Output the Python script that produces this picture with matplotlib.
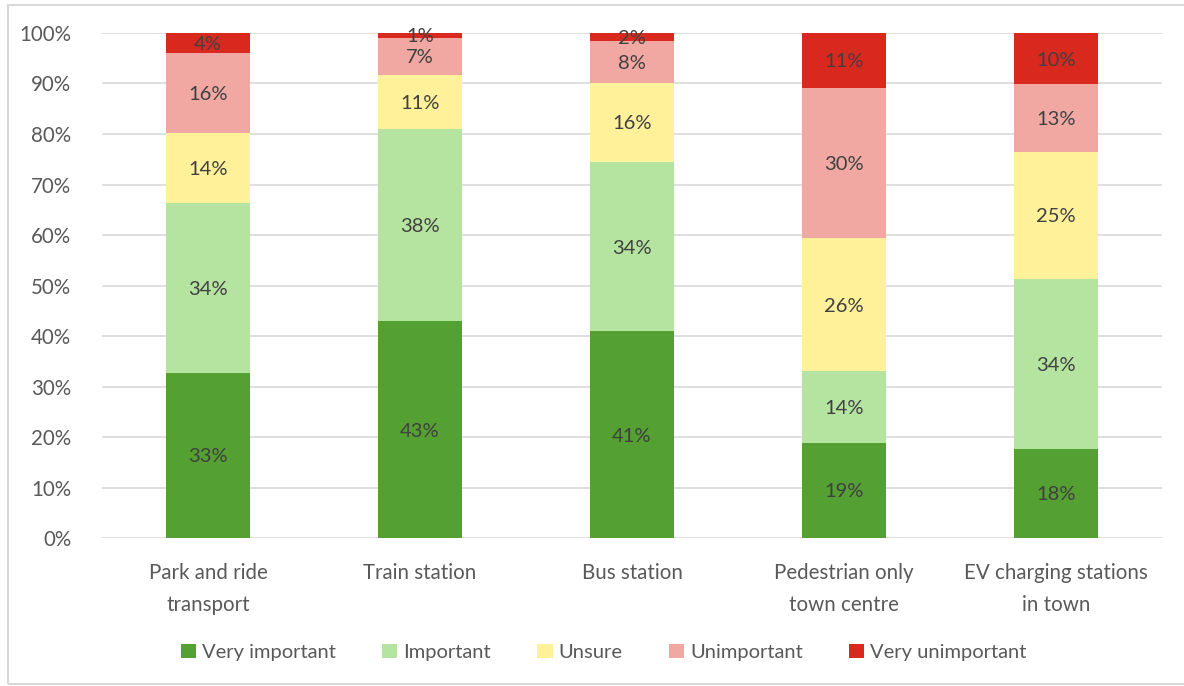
import matplotlib
matplotlib.use("Agg")
import matplotlib.pyplot as plt
from matplotlib.patches import Rectangle
import numpy as np

categories = ["Park and ride\ntransport", "Train station", "Bus station",
              "Pedestrian only\ntown centre", "EV charging stations\nin town"]
series = ["Very important", "Important", "Unsure", "Unimportant", "Very unimportant"]
colors = ["#54A032", "#B5E3A0", "#FFF09A", "#F1A8A2", "#D9291E"]

very_important = [32.7, 42.9, 40.9, 18.9, 17.7]
important = [33.6, 38.1, 33.6, 14.1, 33.6]
unsure = [13.9, 10.7, 15.6, 26.4, 25.2]
unimportant = [15.8, 7.4, 8.3, 29.8, 13.4]
very_unimportant = [4.0, 0.9, 1.6, 10.8, 10.1]
values = [very_important, important, unsure, unimportant, very_unimportant]

plt.rcParams["font.family"] = ["Lato", "DejaVu Sans"]

fig = plt.figure(figsize=(11.84, 6.86), dpi=100)
ax = fig.add_axes([0.0861, 0.2157, 0.8953, 0.7362])

x = np.arange(len(categories))
bottom = np.zeros(len(categories))
for name, vals, col in zip(series, values, colors):
    vals = np.array(vals)
    ax.bar(x, vals, 0.4, bottom=bottom, color=col, label=name, zorder=2)
    for xi, b, v in zip(x, bottom, vals):
        ax.text(xi, b + v / 2, f"{v:.0f}%", ha="center", va="center_baseline",
                fontsize=14.5, color="#404040", zorder=3)
    bottom += vals

ax.set_xlim(-0.5, 4.5)
ax.set_ylim(0, 100)
ax.set_yticks(np.arange(0, 101, 10))
ax.set_yticklabels([f"{t}%" for t in range(0, 101, 10)])
ax.set_xticks(x)
ax.set_xticklabels(categories, linespacing=1.75)
ax.tick_params(length=0, labelsize=14.8, labelcolor="#595959")
ax.tick_params(axis="x", pad=18)
ax.tick_params(axis="y", pad=22)
ax.yaxis.grid(True, color="#D9D9D9", linewidth=1.2, zorder=0)
ax.set_axisbelow(True)
for s in ax.spines.values():
    s.set_visible(False)

leg = fig.legend(loc="center", bbox_to_anchor=(0.51, 0.049), ncol=5, frameon=False,
                 fontsize=14.5, handlelength=0.75, handleheight=0.75,
                 handletextpad=0.3, columnspacing=2.3)
for t in leg.get_texts():
    t.set_color("#595959")

fig.patches.append(Rectangle((0.007, 0.003), 1.1, 0.99, transform=fig.transFigure,
                             fill=False, edgecolor="#D9D9D9", linewidth=1.5))

fig.savefig("out.png", dpi=100)
